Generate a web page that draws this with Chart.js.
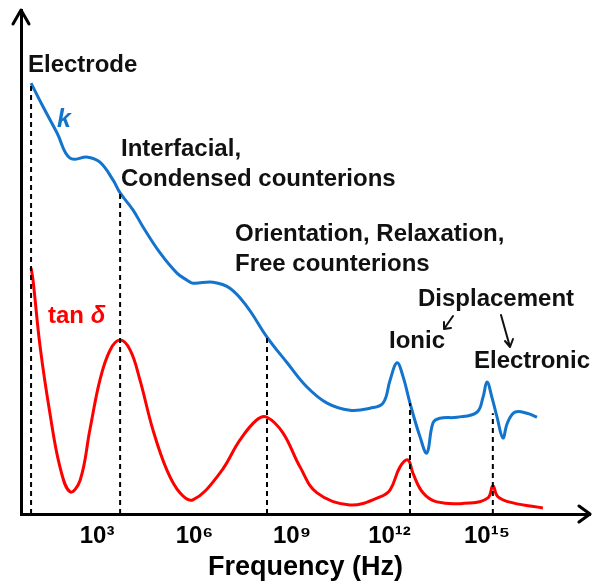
<!DOCTYPE html>
<html>
<head>
<meta charset="utf-8">
<script src="https://cdn.jsdelivr.net/npm/chart.js@4.4.0/dist/chart.umd.min.js"></script>
<style>
  html, body { margin: 0; padding: 0; background: #fff; }
  #wrap { width: 592px; height: 588px; }
</style>
</head>
<body>
<div id="wrap"><canvas id="dielectric"></canvas></div>
<script>
// log10(frequency) decades shown on the axis
const decades = [3, 6, 9, 12, 15];
const tickLabels = ['10³', '10⁶', '10⁹', '10¹²', '10¹⁵'];

// dielectric constant k (arbitrary units)
const kFreq = [0.97, 1.34, 1.77, 2.17, 2.72, 3.09, 3.49, 3.71, 4.11, 4.42, 4.94, 5.46, 5.77, 5.95, 6.57, 7.09, 7.62, 8.23, 8.85, 9.46, 10.08, 10.78, 11.40, 11.80, 12.02, 12.23, 12.42, 12.63, 12.94, 13.15, 13.34, 13.55, 14.08, 14.69, 14.88, 15.00, 15.15, 15.31, 15.49, 15.63, 15.86, 16.23, 16.54];
const kValue = [85.5, 80.8, 75.6, 70.6, 70.8, 69.8, 66.3, 63.7, 60.3, 56.9, 51.8, 47.8, 46.4, 45.8, 46.0, 44.8, 41.1, 35.1, 30.0, 25.2, 22.0, 20.6, 21.0, 22.0, 26.6, 30.0, 27.2, 22.0, 15.3, 12.1, 18.1, 19.0, 19.2, 20.2, 23.2, 26.2, 23.2, 19.2, 15.1, 18.1, 20.2, 20.0, 19.2];

// loss tangent tan delta (arbitrary units)
const tanFreq = [0.97, 1.03, 1.25, 1.55, 1.86, 2.17, 2.48, 2.78, 3.09, 3.40, 3.71, 4.02, 4.32, 4.72, 5.15, 5.55, 5.95, 6.78, 7.40, 7.92, 8.23, 8.72, 9.25, 9.77, 10.78, 11.71, 12.02, 12.32, 12.57, 12.72, 13.03, 13.46, 14.48, 15.03, 15.18, 15.34, 15.80, 16.72];
const tanValue = [48.8, 46.4, 33.1, 20.0, 9.3, 4.4, 6.7, 16.7, 26.6, 32.5, 34.5, 32.5, 26.6, 16.7, 8.7, 4.2, 2.8, 8.1, 14.7, 18.7, 19.2, 16.1, 9.3, 4.2, 1.8, 3.4, 4.8, 9.3, 10.7, 8.1, 4.2, 2.4, 2.2, 3.2, 5.6, 3.4, 2.2, 1.2];

// dashed markers: mechanism frequency and height where they meet k
const markFreq = [0.97, 3.71, 8.23, 12.63, 15.18];
const markTop = [85.5, 63.7, 35.1, 22.0, 20.0];

const FONT = "'Liberation Sans', Arial, sans-serif";
const BLUE = '#1274cc';
const RED = '#ff0000';

const toPoints = (xs, ys) => xs.map((x, i) => ({ x: x, y: ys[i] }));

const datasets = [];
markFreq.forEach((f, i) => {
  datasets.push({
    data: [{ x: f, y: 0 }, { x: f, y: markTop[i] }],
    borderColor: '#000',
    borderWidth: 2,
    borderDash: [5, 4],
    pointRadius: 0,
    tension: 0
  });
});
datasets.push({
  label: 'k',
  data: toPoints(kFreq, kValue),
  borderColor: BLUE,
  borderWidth: 3,
  pointRadius: 0,
  tension: 0.4
});
datasets.push({
  label: 'tan δ',
  data: toPoints(tanFreq, tanValue),
  borderColor: RED,
  borderWidth: 3,
  pointRadius: 0,
  tension: 0.4
});

// arrow heads on the axes plus the annotation texts
const annotations = {
  id: 'annotations',
  afterDraw(chart) {
    const ctx = chart.ctx;
    const a = chart.chartArea;
    ctx.save();
    ctx.strokeStyle = '#000';
    ctx.lineWidth = 3;
    ctx.lineCap = 'round';
    ctx.lineJoin = 'round';
    // y axis arrow
    ctx.beginPath();
    ctx.moveTo(a.left - 8, a.top + 14);
    ctx.lineTo(a.left, a.top);
    ctx.lineTo(a.left + 8, a.top + 14);
    ctx.stroke();
    // x axis arrow
    ctx.beginPath();
    ctx.moveTo(a.right - 11, a.bottom - 8);
    ctx.lineTo(a.right, a.bottom);
    ctx.lineTo(a.right - 11, a.bottom + 8);
    ctx.stroke();

    ctx.fillStyle = '#111';
    ctx.textBaseline = 'alphabetic';
    ctx.textAlign = 'left';
    ctx.font = 'bold 24px ' + FONT;
    ctx.fillText('Electrode', 28, 72);
    ctx.fillText('Interfacial,', 121, 156);
    ctx.fillText('Condensed counterions', 121, 186);
    ctx.fillText('Orientation, Relaxation,', 235, 241);
    ctx.fillText('Free counterions', 235, 271);
    ctx.fillText('Displacement', 418, 306);
    ctx.fillText('Ionic', 389, 348);
    ctx.fillText('Electronic', 474, 368);

    ctx.fillStyle = BLUE;
    ctx.font = 'italic bold 25px ' + FONT;
    ctx.fillText('k', 57, 127);

    ctx.fillStyle = RED;
    ctx.font = 'bold 24px ' + FONT;
    ctx.fillText('tan ', 48, 323);
    const w = ctx.measureText('tan ').width;
    ctx.font = 'italic bold 24px ' + FONT;
    ctx.fillText('δ', 48 + w, 323);

    // small arrows from "Displacement"
    ctx.strokeStyle = '#111';
    ctx.lineWidth = 2;
    ctx.beginPath();
    ctx.moveTo(453, 316);
    ctx.lineTo(444, 329);
    ctx.moveTo(444, 322);
    ctx.lineTo(444, 329);
    ctx.lineTo(451, 328);
    ctx.moveTo(501, 315);
    ctx.lineTo(510, 347);
    ctx.moveTo(505, 341);
    ctx.lineTo(510, 347);
    ctx.lineTo(513, 339);
    ctx.stroke();
    ctx.restore();
  }
};

new Chart(document.getElementById('dielectric'), {
  type: 'line',
  data: { datasets: datasets },
  options: {
    responsive: true,
    maintainAspectRatio: false,
    animation: false,
    layout: { padding: { left: 21, top: 10, right: 2, bottom: 0 } },
    plugins: {
      legend: { display: false },
      tooltip: { enabled: false }
    },
    scales: {
      x: {
        type: 'linear',
        min: 0.66,
        max: 18.17,
        afterBuildTicks: (s) => { s.ticks = decades.map(v => ({ value: v })); },
        afterFit: (s) => { s.height = 74; },
        grid: { display: false, drawTicks: false },
        border: { color: '#000', width: 3 },
        ticks: {
          autoSkip: false,
          maxRotation: 0,
          padding: 8,
          color: '#000',
          font: { family: FONT, size: 24, weight: 'bold' },
          callback: (v) => tickLabels[decades.indexOf(v)]
        },
        title: {
          display: true,
          text: 'Frequency (Hz)',
          color: '#000',
          font: { family: FONT, size: 27, weight: 'bold' },
          padding: { top: 0, bottom: 4 }
        }
      },
      y: {
        min: 0,
        max: 100,
        afterFit: (s) => { s.width = 0; },
        grid: { display: false, drawTicks: false },
        border: { color: '#000', width: 3 },
        ticks: { display: false }
      }
    }
  },
  plugins: [annotations]
});
</script>
</body>
</html>
